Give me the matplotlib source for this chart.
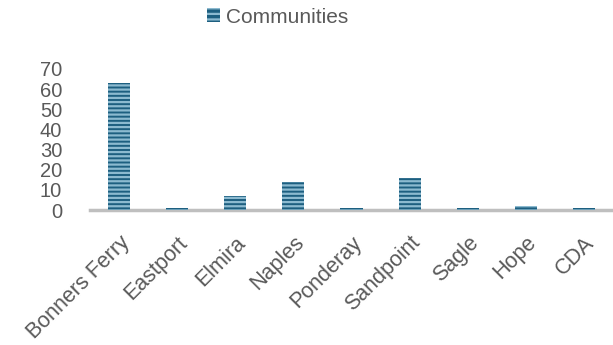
import matplotlib.pyplot as plt
from matplotlib.patches import Patch

plt.rcParams['font.family'] = ['Liberation Sans', 'DejaVu Sans']
plt.rcParams['hatch.linewidth'] = 1.6

communities = ["Bonners Ferry", "Eastport", "Elmira", "Naples", "Ponderay",
               "Sandpoint", "Sagle", "Hope", "CDA"]
counts = [63, 1, 7, 14, 1, 16, 1, 2, 1]
yticks = [0, 10, 20, 30, 40, 50, 60, 70]

bar_color = "#1d5f80"
stripe_color = "#8cbad0"
text_color = "#595959"

fig = plt.figure(figsize=(6.13, 3.45), dpi=100)
ax = fig.add_axes([90 / 613, 1 - 210 / 345, 523 / 613, 141 / 345])

x = list(range(len(communities)))
ax.bar(x, counts, width=0.38, color=bar_color, edgecolor=stripe_color,
       hatch="----", linewidth=0, zorder=2)

ax.set_xlim(-0.5, len(communities) - 0.5)
ax.set_ylim(0, 70)
ax.set_yticks(yticks)
ax.set_yticklabels([str(v) for v in yticks], fontsize=14.5, color=text_color)
ax.tick_params(axis="y", length=0, pad=20)
ax.tick_params(axis="x", length=0, pad=16)
ax.set_xticks(x)
ax.set_xticklabels(communities, rotation=45, ha="right", rotation_mode="anchor",
                   fontsize=15.5, color=text_color)

for side in ["left", "right", "top"]:
    ax.spines[side].set_visible(False)
ax.spines["bottom"].set_color("#bfbfbf")
ax.spines["bottom"].set_linewidth(2.5)
ax.spines["bottom"].set_zorder(1)

handle = Patch(facecolor=bar_color, edgecolor=stripe_color, hatch="---", linewidth=0)
fig.legend([handle], ["Communities"], loc="center", bbox_to_anchor=(0.453, 0.95),
           frameon=False, fontsize=15, labelcolor=text_color,
           handlelength=0.65, handleheight=0.65, handletextpad=0.3)

fig.savefig("out.png", dpi=100)
